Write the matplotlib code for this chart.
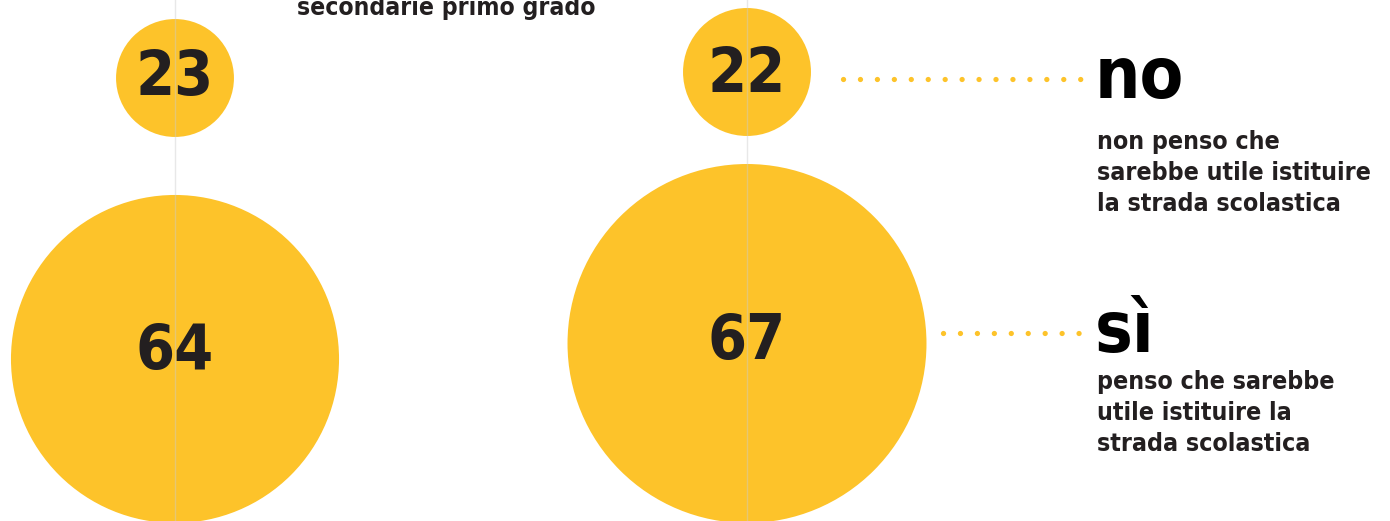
import matplotlib.pyplot as plt
from matplotlib.patches import Circle

# percentuali per le due colonne (sinistra, destra)
no_values = [23, 22]
si_values = [64, 67]
answers = ["no", "sì"]
descriptions = [
    "non penso che\nsarebbe utile istituire\nla strada scolastica",
    "penso che sarebbe\nutile istituire la\nstrada scolastica",
]
header = "secondarie primo grado"

YELLOW = "#fdc32a"
DARK = "#231f20"


def main():
    plt.rcParams["font.family"] = ["DejaVu Sans"]
    plt.rcParams["font.stretch"] = "condensed"

    fig = plt.figure(figsize=(13.9, 5.21), dpi=100)
    ax = fig.add_axes([0, 0, 1, 1])
    ax.set_xlim(0, 1390)
    ax.set_ylim(521, 0)
    ax.axis("off")

    # layout (pixel units)
    col_x = [175, 747]
    no_y = [78, 72]
    si_y = [359, 343.5]
    num_base = [[95, 369], [92, 359]]
    # radius scale per column: r = r0 + k * value
    scales = [(0.0, 2.563), (7.5, 2.567)]

    for i in range(2):
        r0, k = scales[i]
        pairs = ((no_values[i], no_y[i], num_base[i][0]),
                 (si_values[i], si_y[i], num_base[i][1]))
        for val, cy, by in pairs:
            r = r0 + k * val
            ax.add_patch(Circle((col_x[i], cy), r, color=YELLOW, lw=0, zorder=1))
            ax.text(col_x[i], by, str(val), ha="center", va="baseline",
                    fontsize=45, fontweight="semibold", color=DARK, zorder=3)
        ax.axvline(col_x[i], color="#cccccc", lw=1, alpha=0.45, zorder=2)

    ax.text(297, 15, header, ha="left", va="baseline", fontsize=17.7,
            fontweight="bold", color=DARK)

    # legend on the right
    dot_start = [843, 943]
    ans_y = [79, 333]
    base_y = [98, 352]
    desc_y = [130, 370]
    for j in range(2):
        ax.plot([dot_start[j], 1084], [ans_y[j], ans_y[j]], color=YELLOW,
                lw=3.8, linestyle=(0, (0.01, 3.2)), dash_capstyle="round")
        ax.text(1095, base_y[j], answers[j], ha="left", va="baseline",
                fontsize=51, fontweight="bold", color="black")
        ax.text(1097, desc_y[j], descriptions[j], ha="left", va="top",
                fontsize=17.9, fontweight="bold", color=DARK, linespacing=1.38)

    fig.savefig("out.png", dpi=100)


if __name__ == "__main__":
    main()
